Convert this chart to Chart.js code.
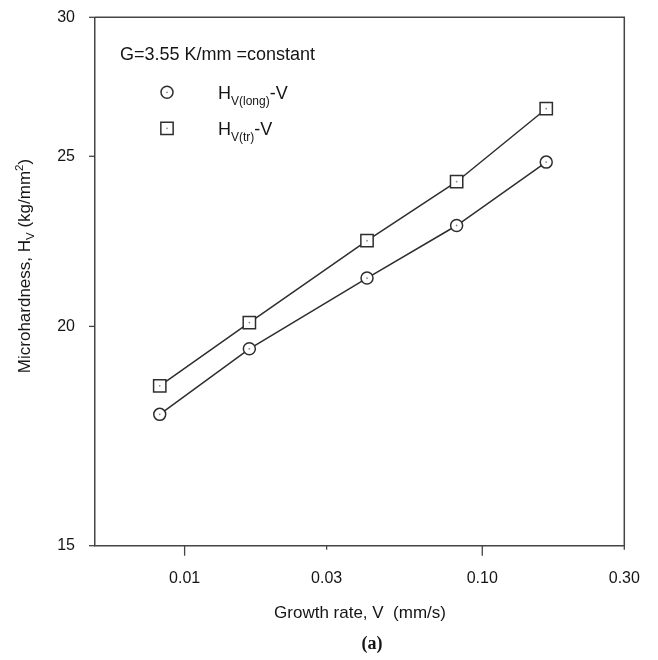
<!DOCTYPE html>
<html><head><meta charset="utf-8">
<script src="https://cdn.jsdelivr.net/npm/chart.js@4"></script>
<style>html,body{margin:0;padding:0;background:#fff}#wrap{width:658px;height:660px}</style>
</head><body><div id="wrap"><canvas id="c" width="658" height="660"></canvas></div>
<script>
// ---- data ----
const growthRate = [0.00825, 0.0165, 0.041, 0.082, 0.164];   // V (mm/s)
const hvLong = [17.82, 19.42, 21.31, 22.83, 24.81];           // HV(long)
const hvTr = [18.50, 20.10, 22.38, 24.18, 26.61];             // HV(tr)
const xTicks = [0.01, 0.03, 0.1, 0.3];
const xTickLabels = ['0.01', '0.03', '0.10', '0.30'];
const yTicks = [15, 20, 25, 30];
const xRange = [0.005, 0.3];
const yRange = [15, 30];
const annotation = 'G=3.55 K/mm =constant';
const seriesNames = [{main: 'H', sub: 'V(long)', tail: '-V'}, {main: 'H', sub: 'V(tr)', tail: '-V'}];

const FONT = '"Liberation Sans", Arial, Helvetica, sans-serif';
const INK = '#151515';
const LINE = '#2e2e2e';
const AXIS = '#444';

function toXY(xs, ys) { return xs.map((x, i) => ({x: x, y: ys[i]})); }

function drawMarker(ctx, style, x, y, r) {
  ctx.save();
  ctx.fillStyle = '#fff';
  ctx.strokeStyle = LINE;
  ctx.lineWidth = 1.5;
  ctx.beginPath();
  if (style === 'circle') ctx.arc(x, y, r, 0, Math.PI * 2);
  else { const s = r * Math.SQRT1_2; ctx.rect(x - s, y - s, 2 * s, 2 * s); }
  ctx.fill(); ctx.stroke();
  ctx.fillStyle = '#888';
  ctx.beginPath(); ctx.arc(x, y, 0.9, 0, Math.PI * 2); ctx.fill();
  ctx.restore();
}

function drawSubText(ctx, x, y, main, sub, tail, big, small) {
  ctx.font = big + 'px ' + FONT;
  const w1 = ctx.measureText(main).width;
  ctx.font = small + 'px ' + FONT;
  const w2 = ctx.measureText(sub).width;
  ctx.font = big + 'px ' + FONT; ctx.fillText(main, x, y);
  ctx.font = small + 'px ' + FONT; ctx.fillText(sub, x + w1, y + big * 0.3);
  ctx.font = big + 'px ' + FONT; ctx.fillText(tail, x + w1 + w2, y);
}

const decorPlugin = {
  id: 'decor',
  afterDatasetsDraw(chart) {
    const ctx = chart.ctx;
    chart.data.datasets.forEach((ds, i) => {
      chart.getDatasetMeta(i).data.forEach(pt => {
        ctx.save(); ctx.fillStyle = '#888';
        ctx.beginPath(); ctx.arc(pt.x, pt.y, 0.9, 0, Math.PI * 2); ctx.fill(); ctx.restore();
      });
    });
  },
  afterDraw(chart) {
    const ctx = chart.ctx;
    const a = chart.chartArea;
    const xs = chart.scales.x, ys = chart.scales.y;
    ctx.save();
    ctx.strokeStyle = AXIS; ctx.lineWidth = 1.5;
    ctx.beginPath();
    ctx.moveTo(a.left, a.top); ctx.lineTo(a.right, a.top); ctx.lineTo(a.right, a.bottom);
    ctx.stroke();
    ctx.lineWidth = 1.3;
    xTicks.forEach(v => {
      const px = xs.getPixelForValue(v);
      const major = Math.abs(Math.log10(v) - Math.round(Math.log10(v))) < 1e-9;
      ctx.beginPath(); ctx.moveTo(px, a.bottom); ctx.lineTo(px, a.bottom + (major ? 10 : 4)); ctx.stroke();
    });
    yTicks.forEach(v => {
      const py = ys.getPixelForValue(v);
      ctx.beginPath(); ctx.moveTo(a.left - 6, py); ctx.lineTo(a.left, py); ctx.stroke();
    });

    ctx.fillStyle = INK;
    ctx.textBaseline = 'alphabetic';
    ctx.textAlign = 'left';
    ctx.font = '18px ' + FONT;
    ctx.fillText(annotation, a.left + 25, a.top + 43);
    const lx = a.left + 72, tx = a.left + 123;
    const rows = [a.top + 75, a.top + 111];
    drawMarker(ctx, 'circle', lx, rows[0], 6);
    drawMarker(ctx, 'rect', lx, rows[1], 8.7);
    ctx.fillStyle = INK;
    seriesNames.forEach((s, i) => drawSubText(ctx, tx, rows[i] + 7, s.main, s.sub, s.tail, 18, 12));

    ctx.font = '17px ' + FONT;
    ctx.textAlign = 'center'; ctx.textBaseline = 'middle';
    ctx.fillText('Growth rate, V  (mm/s)', 360, 613);
    ctx.font = 'bold 18px "Liberation Serif", "Times New Roman", serif';
    ctx.fillText('(a)', 372, 644);

    ctx.textAlign = 'left'; ctx.textBaseline = 'alphabetic';
    const big = 17, small = 11.5;
    const parts = [
      {t: 'Microhardness, H', s: big, dy: 0},
      {t: 'V', s: small, dy: 4},
      {t: ' (kg/mm', s: big, dy: 0},
      {t: '2', s: small, dy: -7},
      {t: ')', s: big, dy: 0}
    ];
    let total = 0;
    parts.forEach(p => { ctx.font = p.s + 'px ' + FONT; p.w = ctx.measureText(p.t).width; total += p.w; });
    ctx.translate(30, 266 + total / 2);
    ctx.rotate(-Math.PI / 2);
    let cx = 0;
    parts.forEach(p => { ctx.font = p.s + 'px ' + FONT; ctx.fillText(p.t, cx, p.dy); cx += p.w; });
    ctx.restore();
  }
};

new Chart(document.getElementById('c'), {
  type: 'scatter',
  data: {
    datasets: [
      {label: 'HV(long)-V', data: toXY(growthRate, hvLong), showLine: true,
       borderColor: LINE, borderWidth: 1.5, pointStyle: 'circle', pointRadius: 6,
       pointBorderWidth: 1.5, pointBackgroundColor: '#fff', pointBorderColor: LINE},
      {label: 'HV(tr)-V', data: toXY(growthRate, hvTr), showLine: true,
       borderColor: LINE, borderWidth: 1.5, pointStyle: 'rect', pointRadius: 8.7,
       pointBorderWidth: 1.5, pointBackgroundColor: '#fff', pointBorderColor: LINE}
    ]
  },
  options: {
    responsive: false, animation: false, devicePixelRatio: 1,
    layout: {padding: {left: 0, top: 17.3, right: 33.7, bottom: 0}},
    plugins: {legend: {display: false}, tooltip: {enabled: false}},
    scales: {
      x: {
        type: 'logarithmic', min: xRange[0], max: xRange[1],
        afterBuildTicks: s => { s.ticks = xTicks.map(v => ({value: v})); },
        afterFit: s => { s.height = 114.3; s.paddingLeft = 0; s.paddingRight = 0; },
        grid: {display: false, drawTicks: false},
        border: {display: true, color: AXIS, width: 1.5},
        ticks: {autoSkip: false, maxRotation: 0, padding: 23, color: INK,
          font: {family: FONT, size: 16},
          callback: (v) => { const i = xTicks.findIndex(t => Math.abs(t - v) < 1e-9); return i >= 0 ? xTickLabels[i] : ''; }}
      },
      y: {
        type: 'logarithmic', min: yRange[0], max: yRange[1],
        afterBuildTicks: s => { s.ticks = yTicks.map(v => ({value: v})); },
        afterFit: s => { s.width = 95; s.paddingTop = 0; s.paddingBottom = 0; },
        grid: {display: false, drawTicks: false},
        border: {display: true, color: AXIS, width: 1.5},
        ticks: {autoSkip: false, padding: 20, color: INK,
          font: {family: FONT, size: 16},
          callback: (v) => String(v)}
      }
    }
  },
  plugins: [decorPlugin]
});
</script>
</body></html>
